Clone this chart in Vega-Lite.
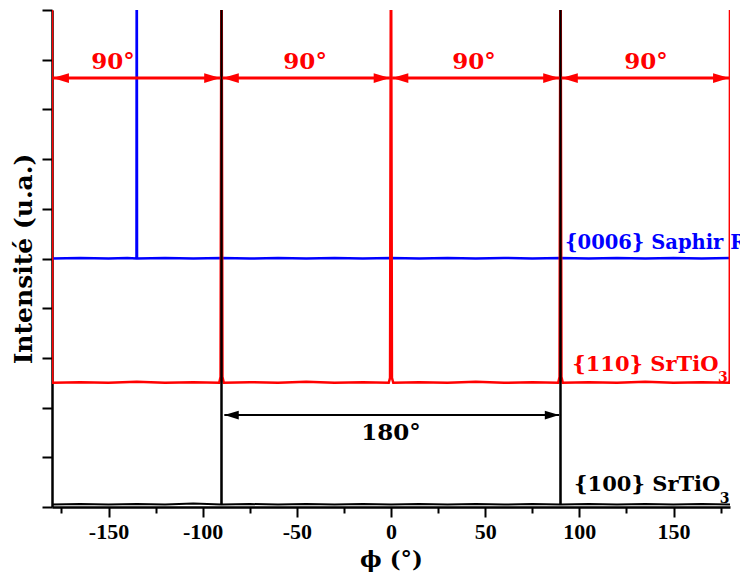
{
  "$schema": "https://vega.github.io/schema/vega-lite/v6.json",
  "width": 678,
  "height": 497,
  "autosize": "none",
  "padding": {"left": 52, "top": 10, "right": 10, "bottom": 74},
  "background": "white",
  "config": {"view": {"stroke": null}, "font": "DejaVu Serif"},
  "datasets": {
    "scan": [
      {"s": "S", "x": -180, "y": 5.0}, {"s": "S", "x": -165, "y": 5.01}, {"s": "S", "x": -150, "y": 5.0}, {"s": "S", "x": -140, "y": 5.01},
      {"s": "S", "x": -135.15, "y": 5.0}, {"s": "S", "x": -135.05, "y": 10.5}, {"s": "S", "x": -134.95, "y": 10.5}, {"s": "S", "x": -134.85, "y": 5.0},
      {"s": "S", "x": -120, "y": 5.01}, {"s": "S", "x": -105, "y": 5.0}, {"s": "S", "x": -90, "y": 5.01}, {"s": "S", "x": -75, "y": 5.0},
      {"s": "S", "x": -60, "y": 5.01}, {"s": "S", "x": -45, "y": 5.0}, {"s": "S", "x": -30, "y": 5.01}, {"s": "S", "x": -15, "y": 5.0},
      {"s": "S", "x": 0, "y": 5.01}, {"s": "S", "x": 15, "y": 5.0}, {"s": "S", "x": 30, "y": 5.01}, {"s": "S", "x": 45, "y": 5.0},
      {"s": "S", "x": 60, "y": 5.01}, {"s": "S", "x": 75, "y": 5.0}, {"s": "S", "x": 90, "y": 5.01}, {"s": "S", "x": 105, "y": 5.0},
      {"s": "S", "x": 120, "y": 5.01}, {"s": "S", "x": 135, "y": 5.0}, {"s": "S", "x": 150, "y": 5.01}, {"s": "S", "x": 165, "y": 5.0}, {"s": "S", "x": 180, "y": 5.01},

      {"s": "R", "x": -180, "y": 10.5}, {"s": "R", "x": -179.85, "y": 2.55}, {"s": "R", "x": -179.5, "y": 2.5}, {"s": "R", "x": -165, "y": 2.51},
      {"s": "R", "x": -150, "y": 2.5}, {"s": "R", "x": -135, "y": 2.52}, {"s": "R", "x": -120, "y": 2.5}, {"s": "R", "x": -105, "y": 2.51},
      {"s": "R", "x": -91.2, "y": 2.5}, {"s": "R", "x": -90.5, "y": 2.62}, {"s": "R", "x": -90.1, "y": 10.5}, {"s": "R", "x": -89.9, "y": 10.5},
      {"s": "R", "x": -89.5, "y": 2.62}, {"s": "R", "x": -88.8, "y": 2.5}, {"s": "R", "x": -75, "y": 2.51}, {"s": "R", "x": -60, "y": 2.5},
      {"s": "R", "x": -45, "y": 2.52}, {"s": "R", "x": -30, "y": 2.5}, {"s": "R", "x": -15, "y": 2.51}, {"s": "R", "x": -1.2, "y": 2.5},
      {"s": "R", "x": -0.5, "y": 2.6}, {"s": "R", "x": -0.1, "y": 10.5}, {"s": "R", "x": 0.1, "y": 10.5}, {"s": "R", "x": 0.5, "y": 2.6},
      {"s": "R", "x": 1.2, "y": 2.5}, {"s": "R", "x": 15, "y": 2.51}, {"s": "R", "x": 30, "y": 2.5}, {"s": "R", "x": 45, "y": 2.52},
      {"s": "R", "x": 60, "y": 2.5}, {"s": "R", "x": 75, "y": 2.51}, {"s": "R", "x": 88.8, "y": 2.5}, {"s": "R", "x": 89.5, "y": 2.62},
      {"s": "R", "x": 89.9, "y": 10.5}, {"s": "R", "x": 90.1, "y": 10.5}, {"s": "R", "x": 90.5, "y": 2.62}, {"s": "R", "x": 91.2, "y": 2.5},
      {"s": "R", "x": 105, "y": 2.51}, {"s": "R", "x": 120, "y": 2.5}, {"s": "R", "x": 135, "y": 2.52}, {"s": "R", "x": 150, "y": 2.5},
      {"s": "R", "x": 165, "y": 2.51}, {"s": "R", "x": 179.5, "y": 2.5}, {"s": "R", "x": 179.85, "y": 2.55}, {"s": "R", "x": 180, "y": 10.5},

      {"s": "K", "x": -180, "y": 0.05}, {"s": "K", "x": -165, "y": 0.06}, {"s": "K", "x": -150, "y": 0.05}, {"s": "K", "x": -135, "y": 0.06},
      {"s": "K", "x": -120, "y": 0.05}, {"s": "K", "x": -105, "y": 0.07}, {"s": "K", "x": -90.15, "y": 0.05}, {"s": "K", "x": -90.05, "y": 10.5},
      {"s": "K", "x": -89.95, "y": 10.5}, {"s": "K", "x": -89.85, "y": 0.05}, {"s": "K", "x": -75, "y": 0.06}, {"s": "K", "x": -60, "y": 0.05},
      {"s": "K", "x": -45, "y": 0.06}, {"s": "K", "x": -30, "y": 0.05}, {"s": "K", "x": -15, "y": 0.06}, {"s": "K", "x": 0, "y": 0.05},
      {"s": "K", "x": 15, "y": 0.06}, {"s": "K", "x": 30, "y": 0.05}, {"s": "K", "x": 45, "y": 0.06}, {"s": "K", "x": 60, "y": 0.05},
      {"s": "K", "x": 75, "y": 0.06}, {"s": "K", "x": 89.85, "y": 0.05}, {"s": "K", "x": 89.95, "y": 10.5}, {"s": "K", "x": 90.05, "y": 10.5},
      {"s": "K", "x": 90.15, "y": 0.05}, {"s": "K", "x": 105, "y": 0.06}, {"s": "K", "x": 120, "y": 0.05}, {"s": "K", "x": 135, "y": 0.06},
      {"s": "K", "x": 150, "y": 0.05}, {"s": "K", "x": 165, "y": 0.06}, {"s": "K", "x": 180, "y": 0.05}
    ],
    "arrows": [
      {"g": "R", "x1": -179.6, "x2": -90.6, "y": 8.63},
      {"g": "R", "x1": -89.4, "x2": -0.6, "y": 8.63},
      {"g": "R", "x1": 0.6, "x2": 89.4, "y": 8.63},
      {"g": "R", "x1": 90.6, "x2": 179.6, "y": 8.63},
      {"g": "K", "x1": -88.5, "x2": 89.3, "y": 1.85}
    ],
    "angles": [
      {"g": "R", "x": -147.6, "y": 8.95, "t": "90°"},
      {"g": "R", "x": -45.6, "y": 8.95, "t": "90°"},
      {"g": "R", "x": 44.1, "y": 8.95, "t": "90°"},
      {"g": "R", "x": 135.4, "y": 8.95, "t": "90°"},
      {"g": "K", "x": 0, "y": 1.49, "t": "180°"}
    ],
    "names": [
      {"g": "S", "x": 92.4, "y": 5.31, "t": "{0006} Saphir R"},
      {"g": "R", "x": 96.2, "y": 2.86, "t": "{110} SrTiO"},
      {"g": "K", "x": 97.2, "y": 0.44, "t": "{100} SrTiO"}
    ],
    "subs": [
      {"g": "R", "x": 176.2, "y": 2.6, "t": "3"},
      {"g": "K", "x": 177.2, "y": 0.17, "t": "3"}
    ]
  },
  "layer": [
    {
      "data": {"name": "scan"},
      "transform": [{"filter": "datum.s === 'S'"}],
      "mark": {"type": "line", "clip": true, "strokeWidth": 2.5, "color": "#0000ff"},
      "encoding": {
        "x": {
          "field": "x", "type": "quantitative",
          "scale": {"domain": [-180, 180], "nice": false, "zero": false},
          "title": "ϕ (°)",
          "axis": {
            "values": [-175, -150, -125, -100, -75, -50, -25, 0, 25, 50, 75, 100, 125, 150, 175],
            "labelExpr": "datum.value % 50 === 0 ? '' + datum.value : ''",
            "labelOverlap": false,
            "labelFlush": false,
            "grid": false,
            "tickSize": {"condition": {"test": "datum.value % 50 === 0", "value": 10}, "value": 6},
            "tickWidth": 2, "tickColor": "black",
            "domainColor": "black", "domainWidth": 2.5,
            "labelFont": "Liberation Serif", "labelFontWeight": "bold", "labelFontSize": 22, "labelColor": "black", "labelPadding": 4,
            "titleFont": "DejaVu Serif", "titleFontWeight": "bold", "titleFontSize": 23, "titleColor": "black", "titlePadding": 6
          }
        },
        "y": {
          "field": "y", "type": "quantitative",
          "scale": {"domain": [0, 10], "nice": false, "zero": false},
          "title": "Intensité (u.a.)",
          "axis": {
            "values": [0, 0.5, 1, 1.5, 2, 2.5, 3, 3.5, 4, 4.5, 5, 5.5, 6, 6.5, 7, 7.5, 8, 8.5, 9, 9.5, 10],
            "labels": false,
            "grid": false,
            "tickSize": {"condition": {"test": "datum.value % 1 === 0", "value": 10}, "value": 6},
            "tickWidth": 2, "tickColor": "black",
            "domainColor": "black", "domainWidth": 2.5,
            "titleFont": "DejaVu Serif", "titleFontWeight": "bold", "titleFontSize": 25, "titleColor": "black", "titlePadding": 5
          }
        }
      }
    },
    {
      "data": {"name": "scan"},
      "transform": [{"filter": "datum.s === 'R'"}],
      "mark": {"type": "line", "clip": true, "strokeWidth": 2.5, "color": "#ff0000"},
      "encoding": {"x": {"field": "x", "type": "quantitative"}, "y": {"field": "y", "type": "quantitative"}}
    },
    {
      "data": {"name": "scan"},
      "transform": [{"filter": "datum.s === 'K'"}],
      "mark": {"type": "line", "clip": true, "strokeWidth": 2, "color": "#000000"},
      "encoding": {"x": {"field": "x", "type": "quantitative"}, "y": {"field": "y", "type": "quantitative"}}
    },
    {
      "data": {"name": "arrows"},
      "transform": [{"filter": "datum.g === 'R'"}],
      "mark": {"type": "rule", "strokeWidth": 3, "color": "#ff0000"},
      "encoding": {"x": {"field": "x1", "type": "quantitative"}, "x2": {"field": "x2"}, "y": {"field": "y", "type": "quantitative"}}
    },
    {
      "data": {"name": "arrows"},
      "transform": [{"filter": "datum.g === 'K'"}],
      "mark": {"type": "rule", "strokeWidth": 2, "color": "#000000"},
      "encoding": {"x": {"field": "x1", "type": "quantitative"}, "x2": {"field": "x2"}, "y": {"field": "y", "type": "quantitative"}}
    },
    {
      "data": {"name": "arrows"},
      "transform": [{"filter": "datum.g === 'R'"}],
      "mark": {"type": "point", "filled": true, "opacity": 1, "strokeWidth": 0, "size": 324, "color": "#ff0000", "shape": "M0,0 L1.8,-0.55 L1.8,0.55 Z"},
      "encoding": {"x": {"field": "x1", "type": "quantitative"}, "y": {"field": "y", "type": "quantitative"}}
    },
    {
      "data": {"name": "arrows"},
      "transform": [{"filter": "datum.g === 'R'"}],
      "mark": {"type": "point", "filled": true, "opacity": 1, "strokeWidth": 0, "size": 324, "color": "#ff0000", "shape": "M0,0 L-1.8,-0.55 L-1.8,0.55 Z"},
      "encoding": {"x": {"field": "x2", "type": "quantitative"}, "y": {"field": "y", "type": "quantitative"}}
    },
    {
      "data": {"name": "arrows"},
      "transform": [{"filter": "datum.g === 'K'"}],
      "mark": {"type": "point", "filled": true, "opacity": 1, "strokeWidth": 0, "size": 256, "color": "#000000", "shape": "M0,0 L1.8,-0.55 L1.8,0.55 Z"},
      "encoding": {"x": {"field": "x1", "type": "quantitative"}, "y": {"field": "y", "type": "quantitative"}}
    },
    {
      "data": {"name": "arrows"},
      "transform": [{"filter": "datum.g === 'K'"}],
      "mark": {"type": "point", "filled": true, "opacity": 1, "strokeWidth": 0, "size": 256, "color": "#000000", "shape": "M0,0 L-1.8,-0.55 L-1.8,0.55 Z"},
      "encoding": {"x": {"field": "x2", "type": "quantitative"}, "y": {"field": "y", "type": "quantitative"}}
    },
    {
      "data": {"name": "angles"},
      "mark": {"type": "text", "font": "DejaVu Serif", "fontWeight": "bold", "fontSize": 23, "align": "center", "baseline": "middle"},
      "encoding": {
        "x": {"field": "x", "type": "quantitative"},
        "y": {"field": "y", "type": "quantitative"},
        "text": {"field": "t"},
        "color": {"field": "g", "type": "nominal", "scale": {"domain": ["S", "R", "K"], "range": ["#0000ff", "#ff0000", "#000000"]}, "legend": null}
      }
    },
    {
      "data": {"name": "names"},
      "transform": [{"filter": "datum.g === 'S'"}],
      "mark": {"type": "text", "font": "DejaVu Serif", "fontWeight": "bold", "fontSize": 19.5, "align": "left", "baseline": "middle", "color": "#0000ff"},
      "encoding": {
        "x": {"field": "x", "type": "quantitative"},
        "y": {"field": "y", "type": "quantitative"},
        "text": {"field": "t"}
      }
    },
    {
      "data": {"name": "names"},
      "transform": [{"filter": "datum.g !== 'S'"}],
      "mark": {"type": "text", "font": "DejaVu Serif", "fontWeight": "bold", "fontSize": 21, "align": "left", "baseline": "middle"},
      "encoding": {
        "x": {"field": "x", "type": "quantitative"},
        "y": {"field": "y", "type": "quantitative"},
        "text": {"field": "t"},
        "color": {"field": "g", "type": "nominal", "scale": {"domain": ["S", "R", "K"], "range": ["#0000ff", "#ff0000", "#000000"]}, "legend": null}
      }
    },
    {
      "data": {"name": "subs"},
      "mark": {"type": "text", "font": "DejaVu Serif", "fontWeight": "bold", "fontSize": 14, "align": "center", "baseline": "middle"},
      "encoding": {
        "x": {"field": "x", "type": "quantitative"},
        "y": {"field": "y", "type": "quantitative"},
        "text": {"field": "t"},
        "color": {"field": "g", "type": "nominal", "scale": {"domain": ["S", "R", "K"], "range": ["#0000ff", "#ff0000", "#000000"]}, "legend": null}
      }
    }
  ]
}
